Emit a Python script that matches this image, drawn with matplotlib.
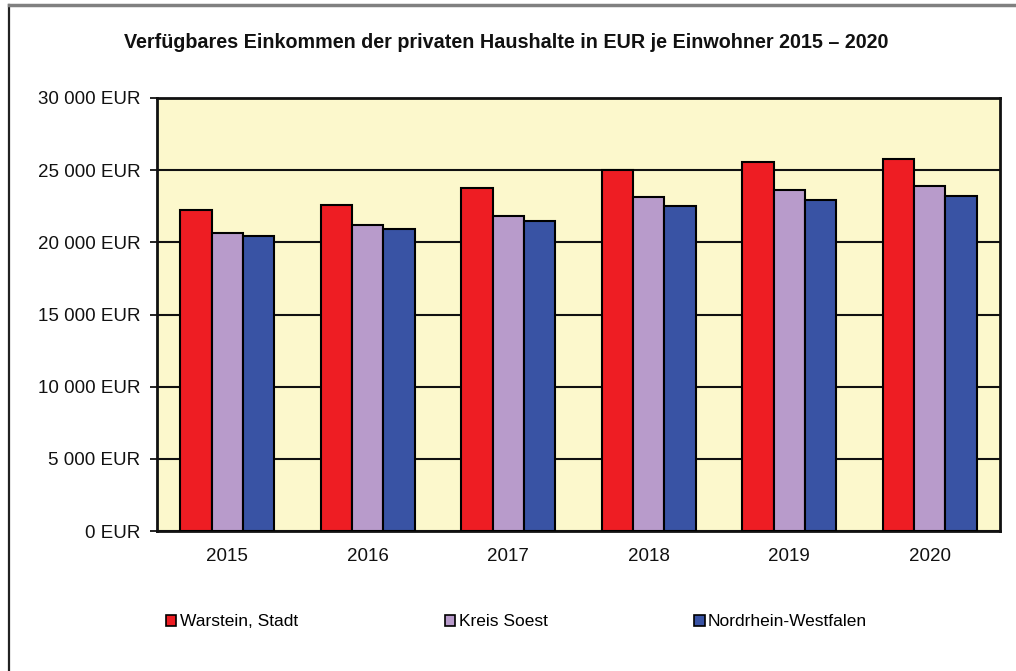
import matplotlib
matplotlib.use("Agg")
import matplotlib.pyplot as plt
import numpy as np
from matplotlib.lines import Line2D
from matplotlib.patches import Patch
from matplotlib.ticker import FuncFormatter, MultipleLocator

plt.rcParams['font.family'] = ['Liberation Sans', 'DejaVu Sans']

years = ["2015", "2016", "2017", "2018", "2019", "2020"]
series_names = ["Warstein, Stadt", "Kreis Soest", "Nordrhein-Westfalen"]
warstein = [22260, 22560, 23770, 25030, 25560, 25760]
soest = [20680, 21170, 21840, 23150, 23660, 23870]
nrw = [20430, 20930, 21510, 22530, 22920, 23190]
colors = ["#EE1D23", "#B89BCB", "#3953A4"]
title = "Verfügbares Einkommen der privaten Haushalte in EUR je Einwohner 2015 – 2020"

W, H = 1016, 671
fig = plt.figure(figsize=(W / 100, H / 100), dpi=100)

# outer frame
fig.add_artist(Line2D([9 / W, 9 / W], [0, 1 - 5 / H], color="#222222", lw=1.6, transform=fig.transFigure))
fig.add_artist(Line2D([9 / W, 1], [1 - 5 / H, 1 - 5 / H], color="#808080", lw=2.5, transform=fig.transFigure))

left, right, top, bottom = 157, 1000, 98, 531
ax = fig.add_axes([left / W, 1 - bottom / H, (right - left) / W, (bottom - top) / H])
ax.set_facecolor("#FCF8CC")

x = np.arange(len(years))
bw = 0.222
for i, (vals, c) in enumerate(zip([warstein, soest, nrw], colors)):
    ax.bar(x + (i - 1) * bw, vals, width=bw, color=c, edgecolor="black", linewidth=1.5, zorder=3)

ax.set_xlim(-0.5, len(years) - 0.5)
ax.set_ylim(0, 30000)
ax.yaxis.set_major_locator(MultipleLocator(5000))
ax.yaxis.set_major_formatter(FuncFormatter(lambda v, p: f"{int(v):,}".replace(",", " ") + " EUR"))
ax.grid(axis="y", color="#111111", lw=1.5, zorder=1)
ax.set_xticks(x)
ax.set_xticklabels(years)
ax.tick_params(axis="x", length=0, pad=12, labelsize=13.5, labelcolor="#111111")
ax.tick_params(axis="y", length=5, width=1.2, pad=7, labelsize=13.5, labelcolor="#111111")
for s in ax.spines.values():
    s.set_linewidth(2)
    s.set_color("#111111")

fig.text(506 / W, 1 - 43 / H, title, ha="center", va="center", fontsize=14.2, fontweight="bold", color="#111111")

handles = [Patch(facecolor=c, edgecolor="black", linewidth=1.2) for c in colors]
fig.legend(handles, series_names, ncol=3, loc="center left", bbox_to_anchor=(166 / W, 1 - 622 / H),
           frameon=False, fontsize=12.5, handlelength=0.6, handleheight=0.6, handletextpad=0.2,
           columnspacing=8.45, borderaxespad=0, borderpad=0)

fig.savefig("out.png", dpi=100)
